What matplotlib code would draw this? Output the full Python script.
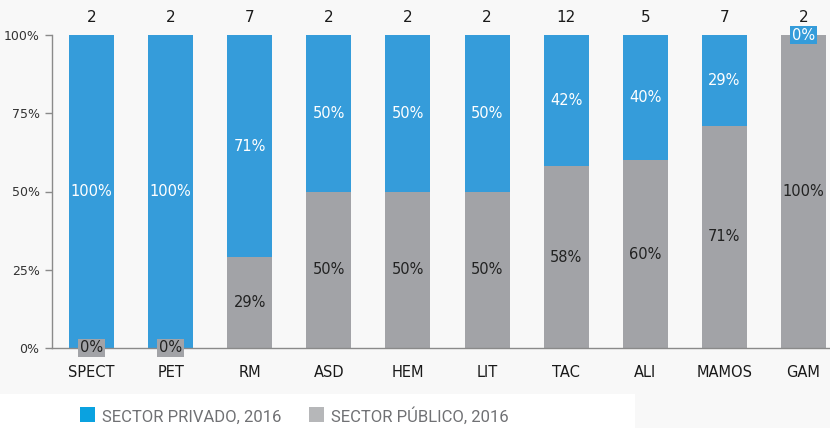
import matplotlib
matplotlib.use("Agg")
import matplotlib.pyplot as plt
from matplotlib.patches import Rectangle
import numpy as np

categories = ["SPECT", "PET", "RM", "ASD", "HEM", "LIT", "TAC", "ALI", "MAMOS", "GAM"]
totals = [2, 2, 7, 2, 2, 2, 12, 5, 7, 2]
private_pct = [100, 100, 71, 50, 50, 50, 42, 40, 29, 0]
public_pct = [0, 0, 29, 50, 50, 50, 58, 60, 71, 100]
y_ticks = [0, 25, 50, 75, 100]
y_tick_labels = ["0%", "25%", "50%", "75%", "100%"]
legend_labels = ["SECTOR PRIVADO, 2016", "SECTOR PÚBLICO, 2016"]

BLUE = "#359CDA"
GRAY = "#A2A3A7"
LEG_BLUE = "#0AA2E0"
LEG_GRAY = "#B6B7B9"

plt.rcParams["font.family"] = ["DejaVu Sans"]

fig = plt.figure(figsize=(8.3, 4.28), dpi=100, facecolor="#F8F8F8")
ax = fig.add_axes([52 / 830, 80 / 428, 791 / 830, 313 / 428])
ax.set_facecolor("none")

x = np.arange(len(categories))
w = 0.57
ax.bar(x, public_pct, w, color=GRAY, zorder=2)
ax.bar(x, private_pct, w, bottom=public_pct, color=BLUE, zorder=2)

for i in range(len(categories)):
    pub = public_pct[i]
    prv = private_pct[i]
    kw = dict(ha="center", va="center", fontsize=10.5, zorder=4)
    # public segment label
    if pub == 0:
        ax.text(x[i], pub / 2, f"{pub}%", color="#222222",
                bbox=dict(boxstyle="square,pad=0.12", fc=GRAY, ec="none"), **kw)
    else:
        ax.text(x[i], pub / 2, f"{pub}%", color="#222222", **kw)
    # private segment label
    if prv == 0:
        ax.text(x[i], pub + prv / 2, f"{prv}%", color="white",
                bbox=dict(boxstyle="square,pad=0.12", fc=BLUE, ec="none"), **kw)
    else:
        ax.text(x[i], pub + prv / 2, f"{prv}%", color="white", **kw)
    # total count above the bar
    ax.annotate(str(totals[i]), (x[i], 100), xytext=(0, 12.5), textcoords="offset points",
                ha="center", va="center", fontsize=11, color="#1a1a1a")

ax.set_xlim(-0.5, 9.5)
ax.set_ylim(0, 100)
ax.set_yticks(y_ticks)
ax.set_yticklabels(y_tick_labels, fontsize=9, color="#333333")
ax.set_xticks(x)
ax.set_xticklabels(categories, fontsize=10.5, color="#1a1a1a")
ax.tick_params(axis="x", length=0, pad=12)
ax.tick_params(axis="y", length=5, width=1, color="#8a8a8a", pad=4)
for s in ["top", "right"]:
    ax.spines[s].set_visible(False)
ax.spines["left"].set_color("#8a8a8a")
ax.spines["bottom"].set_color("#8a8a8a")
ax.spines["left"].set_linewidth(1)
ax.spines["bottom"].set_linewidth(1)

# legend strip
fig.patches.append(Rectangle((0, 0), 635 / 830, 34 / 428, transform=fig.transFigure,
                             fc="white", ec="none", zorder=0))
fig.patches.append(Rectangle((80 / 830, 6 / 428), 15 / 830, 15 / 428, transform=fig.transFigure,
                             fc=LEG_BLUE, ec="none"))
fig.patches.append(Rectangle((309 / 830, 6 / 428), 15 / 830, 15 / 428, transform=fig.transFigure,
                             fc=LEG_GRAY, ec="none"))
legend_font = ["Roboto", "DejaVu Sans"]
fig.text(102 / 830, 6.5 / 428, legend_labels[0], ha="left", va="baseline", fontsize=12,
         color="#707174", family=legend_font)
fig.text(331 / 830, 6.5 / 428, legend_labels[1], ha="left", va="baseline", fontsize=12,
         color="#707174", family=legend_font)

fig.savefig("out.png", dpi=100, facecolor=fig.get_facecolor())
